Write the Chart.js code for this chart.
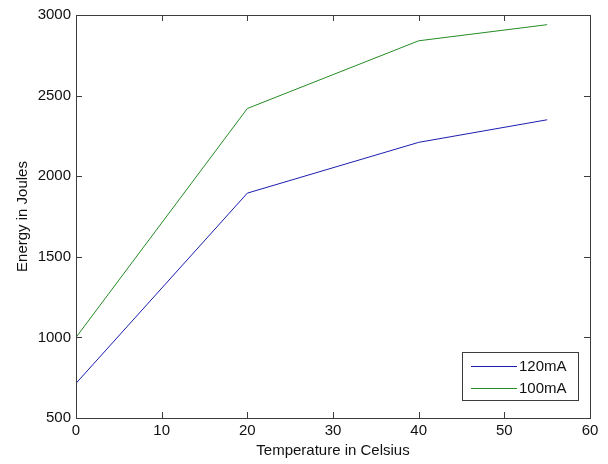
<!DOCTYPE html>
<html>
<head>
<meta charset="utf-8">
<script src="https://cdn.jsdelivr.net/npm/chart.js@4.4.0/dist/chart.umd.min.js"></script>
<style>
  body { margin: 0; background: #fff; }
  #wrap { width: 608px; height: 464px; }
</style>
</head>
<body>
<div id="wrap"><canvas id="energyChart" width="608" height="464"></canvas></div>
<script>
// Values
const temperatures = [0, 20, 40, 55];
const energy120mA = [715, 1895, 2210, 2350];
const energy100mA = [1000, 2420, 2840, 2940];
const seriesLabels = ['120mA', '100mA'];
const seriesColors = ['#1c1cb0', '#238c23'];

function toPoints(xs, ys) {
    return xs.map((x, i) => ({ x: x, y: ys[i] }));
}

// MATLAB style box with inward ticks on all four sides
const boxPlugin = {
    id: 'box',
    afterDraw(chart) {
        const ctx = chart.ctx;
        const a = chart.chartArea;
        const xs = chart.scales.x, ys = chart.scales.y;
        const len = 6;
        ctx.save();
        ctx.strokeStyle = '#3c3c3c';
        ctx.lineWidth = 1;
        ctx.strokeRect(a.left + 0.5, a.top + 0.5, a.right - a.left, a.bottom - a.top);
        ctx.beginPath();
        xs.ticks.forEach(t => {
            const px = Math.round(xs.getPixelForValue(t.value)) + 0.5;
            ctx.moveTo(px, a.bottom); ctx.lineTo(px, a.bottom - len);
            ctx.moveTo(px, a.top); ctx.lineTo(px, a.top + len);
        });
        ys.ticks.forEach(t => {
            const py = Math.round(ys.getPixelForValue(t.value)) + 0.5;
            ctx.moveTo(a.left, py); ctx.lineTo(a.left + len, py);
            ctx.moveTo(a.right, py); ctx.lineTo(a.right - len, py);
        });
        ctx.stroke();

        // legend box in the lower right corner
        const w = 116, h = 48;
        const bx = a.right - 12 - w, by = a.bottom - 18 - h;
        ctx.fillStyle = '#fff';
        ctx.fillRect(bx, by, w, h);
        ctx.strokeRect(bx + 0.5, by + 0.5, w, h);
        ctx.font = '15px "Liberation Sans", Arial, sans-serif';
        ctx.textBaseline = 'middle';
        ctx.textAlign = 'left';
        chart.data.datasets.forEach((ds, i) => {
            const ly = by + 14 + i * 21.5;
            ctx.strokeStyle = ds.borderColor;
            ctx.beginPath();
            ctx.moveTo(bx + 9, Math.round(ly) + 0.5);
            ctx.lineTo(bx + 55, Math.round(ly) + 0.5);
            ctx.stroke();
            ctx.fillStyle = '#111';
            ctx.fillText(ds.label, bx + 57, ly + 1);
        });
        ctx.restore();
    }
};

Chart.defaults.color = '#111';
Chart.defaults.font.family = '"Liberation Sans", Arial, sans-serif';
Chart.defaults.font.size = 15;

new Chart(document.getElementById('energyChart').getContext('2d'), {
    type: 'line',
    data: {
        datasets: [{
            label: seriesLabels[0],
            data: toPoints(temperatures, energy120mA),
            borderColor: seriesColors[0],
            borderWidth: 1,
            pointRadius: 0,
            fill: false
        }, {
            label: seriesLabels[1],
            data: toPoints(temperatures, energy100mA),
            borderColor: seriesColors[1],
            borderWidth: 1,
            pointRadius: 0,
            fill: false
        }]
    },
    options: {
        responsive: false,
        animation: false,
        layout: { padding: { top: 15, right: 18, left: 0, bottom: 0 } },
        plugins: {
            legend: { display: false },
            tooltip: { enabled: false }
        },
        scales: {
            x: {
                type: 'linear',
                min: 0,
                max: 60,
                ticks: { stepSize: 10, padding: 4, maxRotation: 0, callback: v => String(v) },
                grid: { display: false, drawTicks: false },
                border: { display: false },
                title: { display: true, text: 'Temperature in Celsius', padding: { top: 0, bottom: 4 } },
                afterFit(scale) { scale.height = 46; }
            },
            y: {
                type: 'linear',
                min: 500,
                max: 3000,
                ticks: { stepSize: 500, padding: 5, callback: v => String(v) },
                grid: { display: false, drawTicks: false },
                border: { display: false },
                title: { display: true, text: 'Energy in Joules', padding: { top: 14, bottom: 0 } },
                afterFit(scale) { scale.width = 76; }
            }
        }
    },
    plugins: [boxPlugin]
});
</script>
</body>
</html>
